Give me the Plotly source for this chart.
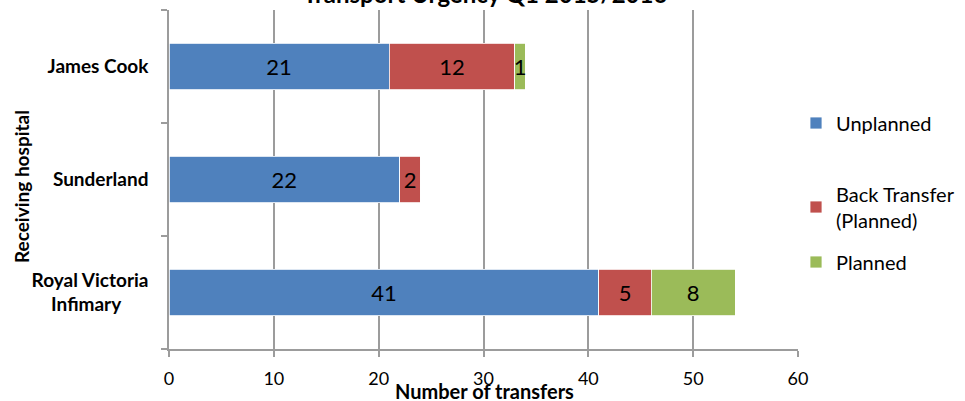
import plotly.graph_objects as go

hospitals = ["Royal Victoria Infimary", "Sunderland", "James Cook"]
hospital_labels = ["Royal Victoria<br>Infimary\u00a0\u00a0\u00a0\u00a0\u00a0\u00a0", "Sunderland", "James Cook"]
unplanned = [41, 22, 21]
back_transfer = [5, 2, 12]
planned = [8, 0, 1]
x_ticks = [0, 10, 20, 30, 40, 50, 60]

FONT = "Lato"
W, H = 965, 401
L, R, T, B = 169, 167, 10, 52
pw, ph = W - L - R, H - T - B

def px_to_paper_x(px):
    return (px - L) / pw

def px_to_paper_y(py):
    return (H - B - py) / ph

series = [
    ("Unplanned", unplanned, "#4F81BD", "legend", 123),
    ("Back Transfer<br>(Planned)", back_transfer, "#C0504D", "legend2", 207),
    ("Planned", planned, "#9BBB59", "legend3", 262),
]

fig = go.Figure()
for name, vals, col, leg, _ in series:
    fig.add_trace(go.Bar(
        y=hospitals, x=vals, name=name, orientation="h",
        marker=dict(color=col, line=dict(color="white", width=0.8)),
        text=[str(v) if v else "" for v in vals],
        textposition="inside", insidetextanchor="middle",
        textfont=dict(size=22, color="black", family=FONT),
        constraintext="none", cliponaxis=False,
        legend=leg, width=0.41, showlegend=True,
    ))

layout_legends = {}
for name, vals, col, leg, py in series:
    layout_legends[leg] = dict(
        x=px_to_paper_x(796), xanchor="left",
        y=px_to_paper_y(py), yanchor="middle",
        font=dict(size=20, family=FONT, color="black"),
        bgcolor="rgba(0,0,0,0)", borderwidth=0, visible=True,
    )

fig.update_layout(
    width=W, height=H, barmode="stack", showlegend=True,
    margin=dict(l=L, r=R, t=T, b=B, autoexpand=False),
    plot_bgcolor="white", paper_bgcolor="white",
    font=dict(family=FONT, color="black"),
    xaxis=dict(range=[0, 60], tickvals=x_ticks, showgrid=True, gridcolor="#9C9C9C", gridwidth=1.5,
               zeroline=False, showline=True, linecolor="#9C9C9C", linewidth=1.5,
               ticks="outside", ticklen=6, tickcolor="#9C9C9C", tickwidth=1.5,
               tickfont=dict(size=18, family=FONT, color="black"), ticklabelstandoff=7),
    yaxis=dict(showgrid=False, showline=True, linecolor="#9C9C9C", linewidth=1.5,
               ticks="outside", ticklen=6, tickcolor="#9C9C9C", tickwidth=1.5,
               tickson="boundaries", tickvals=hospitals, ticktext=hospital_labels,
               tickfont=dict(size=19, family=FONT, color="black", weight="bold"), ticklabelstandoff=15),
    annotations=[
        dict(text="<b>Transport Urgency Q1 2015/2016</b>", x=px_to_paper_x(485), y=px_to_paper_y(-7),
             xref="paper", yref="paper", xanchor="center", yanchor="middle", showarrow=False,
             font=dict(size=24, family=FONT, color="black")),
        dict(text="<b>Number of transfers</b>", x=px_to_paper_x(485), y=px_to_paper_y(391),
             xref="paper", yref="paper", xanchor="center", yanchor="middle", showarrow=False,
             font=dict(size=20, family=FONT, color="black")),
        dict(text="<b>Receiving hospital</b>", x=px_to_paper_x(22), y=px_to_paper_y(187),
             xref="paper", yref="paper", xanchor="center", yanchor="middle", showarrow=False,
             textangle=-90, font=dict(size=19, family=FONT, color="black")),
    ],
    **layout_legends,
)

fig.write_html("out.html", config={"displayModeBar": False},
               post_script="document.body.style.margin='0';")
